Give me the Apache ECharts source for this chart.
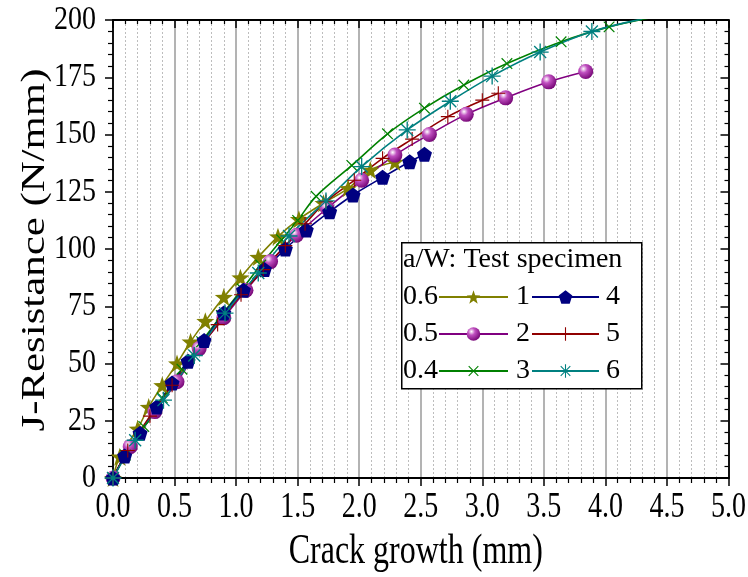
<!DOCTYPE html>
<html>
<head>
<meta charset="utf-8">
<script src="https://cdn.jsdelivr.net/npm/echarts@6/dist/echarts.min.js"></script>
<style>html,body{margin:0;padding:0;background:#fff}#c{width:748px;height:577px}</style>
</head>
<body>
<div id="c"></div>
<script>
// ---- data (crack growth mm, J N/mm) ----
const xTicks = ['0.0','0.5','1.0','1.5','2.0','2.5','3.0','3.5','4.0','4.5','5.0'];
const yTicks = ['0','25','50','75','100','125','150','175','200'];
const s1 = [[0,0],[0.055,9.3],[0.2,21.5],[0.29,31],[0.40,40.5],[0.52,50],[0.63,59.5],[0.75,68.5],[0.90,79],[1.035,87.5],[1.18,96.5],[1.34,105.4],[1.51,113],[1.71,120],[1.91,126.5],[2.09,134.5],[2.29,138]];
const s2 = [[0,0],[0.14,13.7],[0.34,29],[0.52,42],[0.70,56.5],[0.90,70],[1.08,82],[1.28,94.5],[1.49,106],[1.74,117.8],[2.02,130],[2.29,141],[2.57,150],[2.87,158.8],[3.19,166],[3.54,173],[3.84,177.5]];
const s3 = [[0,0],[0.1,10],[0.25,22.5],[0.4,35],[0.56,47.5],[0.72,59.5],[0.88,71],[1.05,82.5],[1.2,93],[1.37,104],[1.5,112.5],[1.65,123],[1.94,136.5],[2.23,150.3],[2.53,161.5],[2.85,171.6],[3.2,181],[3.64,190.5],[4.03,197],[4.37,201]];
const s4 = [[0,0],[0.095,9.6],[0.22,19.5],[0.355,31],[0.48,41.5],[0.61,51],[0.74,60],[0.90,72],[1.06,82],[1.23,91],[1.40,100],[1.57,108.3],[1.76,116.3],[1.95,123.6],[2.19,131.3],[2.41,138.1],[2.53,141.4]];
const s5 = [[0,0],[0.12,12],[0.3,27],[0.48,40.5],[0.66,53.5],[0.85,67],[1.04,80],[1.22,91],[1.40,101.5],[1.56,111],[1.73,120.7],[1.96,130],[2.19,139.6],[2.43,148],[2.72,157.8],[3.0,165],[3.13,168]];
const s6 = [[0,0],[0.18,16.5],[0.41,34],[0.66,53.5],[0.91,72],[1.18,89.5],[1.43,105.7],[1.73,121],[2.02,136],[2.39,152],[2.74,164.5],[3.08,175.5],[3.47,186],[3.89,195],[4.3,200.5]];
const seriesNames = ['1','2','3','4','5','6'];
const ratioLabels = ['0.6','0.5','0.4'];
const legendTitle = 'a/W: Test specimen';
const xTitle = 'Crack growth (mm)';
const yTitle = 'J-Resistance (N/mm)';

const FONT = '"Liberation Serif","Times New Roman",serif';
const STAR = 'path://M0,-10 L2.35,-3.24 L9.51,-3.09 L3.8,1.24 L5.88,8.09 L0,4 L-5.88,8.09 L-3.8,1.24 L-9.51,-3.09 L-2.35,-3.24 Z';
const PENT = 'path://M0,-10 L9.51,-3.09 L5.88,8.09 L-5.88,8.09 L-9.51,-3.09 Z';
const PLUS = 'path://M-0.8,-10 L0.8,-10 L0.8,-0.8 L10,-0.8 L10,0.8 L0.8,0.8 L0.8,10 L-0.8,10 L-0.8,0.8 L-10,0.8 L-10,-0.8 L-0.8,-0.8 Z';
const AST = 'path://M-0.8,-10 L0.8,-10 L0.8,10 L-0.8,10 Z M-10,-0.8 L10,-0.8 L10,0.8 L-10,0.8 Z M-6.5,-7.6 L7.6,6.5 L6.5,7.6 L-7.6,-6.5 Z M6.5,-7.6 L7.6,-6.5 L-6.5,7.6 L-7.6,6.5 Z';

const sphere = {type:'radial', x:0.35, y:0.32, r:0.75, colorStops:[{offset:0,color:'#ffffff'},{offset:0.35,color:'#c050c0'},{offset:1,color:'#700070'}]};

function mk(name, data, color, symbol, size, fill, rot) {
  return {
    name: name, type: 'line', data: data, smooth: 0.35,
    symbol: symbol, symbolSize: size, symbolRotate: rot || 0,
    showAllSymbol: true,
    lineStyle: {color: color, width: 1.6},
    itemStyle: {color: fill || color, borderWidth: 0},
    xAxisIndex: 0, yAxisIndex: 0, z: 3
  };
}

const chart = echarts.init(document.getElementById('c'), null, {renderer: 'canvas'});
const axisCommon = {
  min: 0, axisLine: {show: true, onZero: false, lineStyle: {color: '#000', width: 1.8}}
};
const legendGraphics = [
  {type: 'rect', left: 401, top: 242, z: 10, shape: {width: 240, height: 146},
    style: {fill: '#fff', stroke: '#000', lineWidth: 1.5}},
  {type: 'text', left: 403, top: 246, z: 11, style: {text: legendTitle, font: '28px ' + FONT, fill: '#000'}},
  {type: 'text', left: 403, top: 283, z: 11, style: {text: ratioLabels[0], font: '28px ' + FONT, fill: '#000'}},
  {type: 'text', left: 403, top: 320, z: 11, style: {text: ratioLabels[1], font: '28px ' + FONT, fill: '#000'}},
  {type: 'text', left: 403, top: 357, z: 11, style: {text: ratioLabels[2], font: '28px ' + FONT, fill: '#000'}}
];
chart.setOption({
  animation: false,
  backgroundColor: '#fff',
  grid: {left: 113, right: 19.5, top: 20, bottom: 99, containLabel: false},
  xAxis: [
    Object.assign({}, axisCommon, {
      type: 'value', position: 'bottom', max: 5, interval: 0.5,
      axisTick: {show: true, inside: false, length: 8, lineStyle: {color: '#000', width: 1.5}},
      minorTick: {show: true, splitNumber: 5, length: 5, lineStyle: {color: '#000', width: 1.2}},
      axisLabel: {show: false},
      splitLine: {show: true, lineStyle: {color: '#a0a0a0', width: 1.6}},
      minorSplitLine: {show: true, lineStyle: {color: '#bdbdbd', width: 1, type: [2, 2]}}
    }),
    Object.assign({}, axisCommon, {
      type: 'value', position: 'top', max: 5, interval: 0.5,
      axisTick: {show: true, inside: true, length: 8, lineStyle: {color: '#000', width: 1.5}},
      minorTick: {show: true, splitNumber: 5, length: 4, lineStyle: {color: '#000', width: 1.2}},
      axisLabel: {show: false}, splitLine: {show: false}
    })
  ],
  yAxis: [
    Object.assign({}, axisCommon, {
      type: 'value', position: 'left', max: 200, interval: 25,
      axisTick: {show: true, inside: false, length: 8, lineStyle: {color: '#000', width: 1.5}},
      minorTick: {show: true, splitNumber: 5, length: 5, lineStyle: {color: '#000', width: 1.2}},
      axisLabel: {show: false},
      splitLine: {show: false}
    }),
    Object.assign({}, axisCommon, {
      type: 'value', position: 'right', max: 200, interval: 25,
      axisTick: {show: true, inside: true, length: 8, lineStyle: {color: '#000', width: 1.5}},
      minorTick: {show: true, splitNumber: 5, length: 4, lineStyle: {color: '#000', width: 1.2}},
      axisLabel: {show: false}, splitLine: {show: false}
    })
  ],
  legend: [
    {
      data: seriesNames.slice(0, 3), orient: 'vertical', left: 438, top: 283,
      itemWidth: 69, itemHeight: 17, itemGap: 9, padding: 0,
      textStyle: {fontFamily: FONT, fontSize: 28, color: '#000', lineHeight: 28, padding: [0,0,0,3]},
      selectedMode: false, z: 20
    },
    {
      data: seriesNames.slice(3, 6), orient: 'vertical', left: 531, top: 283,
      itemWidth: 67, itemHeight: 17, itemGap: 9, padding: 0,
      textStyle: {fontFamily: FONT, fontSize: 28, color: '#000', lineHeight: 28, padding: [0,0,0,2]},
      selectedMode: false, z: 20
    }
  ],
  graphic: legendGraphics,
  series: [
    mk(seriesNames[0], s1, '#808000', STAR, 18),
    mk(seriesNames[1], s2, '#800080', 'circle', 15, sphere),
    mk(seriesNames[2], s3, '#008000', PLUS, 15, null, 45),
    mk(seriesNames[3], s4, '#000080', PENT, 15),
    mk(seriesNames[4], s5, '#900000', PLUS, 14),
    mk(seriesNames[5], s6, '#008080', AST, 17)
  ]
});

// Axis tick labels and titles placed through the axis scales (vertically stretched like the original)
const axisY0 = chart.convertToPixel({yAxisIndex: 0}, 0);
const axisX0 = chart.convertToPixel({xAxisIndex: 0}, 0);
const yTop = chart.convertToPixel({yAxisIndex: 0}, 200);
const xRight = chart.convertToPixel({xAxisIndex: 0}, 5);
const extra = [];
xTicks.forEach(function (t) {
  const px = chart.convertToPixel({xAxisIndex: 0}, parseFloat(t));
  extra.push({type: 'text', x: px, y: axisY0 + 12, scaleY: 1.25, z: 5, silent: true,
    style: {text: t, font: '28px ' + FONT, fill: '#000', align: 'center', verticalAlign: 'top'}});
});
yTicks.forEach(function (t) {
  const py = chart.convertToPixel({yAxisIndex: 0}, parseFloat(t));
  extra.push({type: 'text', x: axisX0 - 17, y: py, scaleY: 1.22, z: 5, silent: true,
    style: {text: t, font: '28px ' + FONT, fill: '#000', align: 'right', verticalAlign: 'middle'}});
});
extra.push({type: 'text', x: (axisX0 + xRight) / 2 - 5, y: axisY0 + 74, scaleY: 1.3, z: 5, silent: true,
  style: {text: xTitle, font: '32px ' + FONT, fill: '#000', align: 'center', verticalAlign: 'middle'}});
extra.push({type: 'text', x: 35, y: (axisY0 + yTop) / 2 + 1, rotation: Math.PI / 2, scaleX: 1.26, z: 5, silent: true,
  style: {text: yTitle, font: '34px ' + FONT, fill: '#000', align: 'center', verticalAlign: 'middle'}});
chart.setOption({graphic: legendGraphics.concat(extra)});
</script>
</body>
</html>
